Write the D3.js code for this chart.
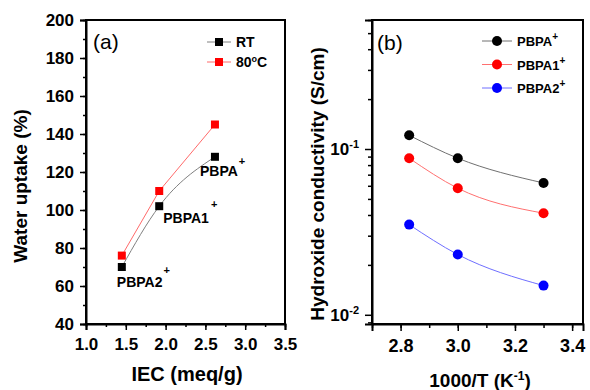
<!DOCTYPE html>
<html>
<head>
<meta charset="utf-8">
<script src="https://cdn.jsdelivr.net/npm/d3@7"></script>
<style>
  body { margin: 0; background: #fff; }
  text { font-family: "Liberation Sans", Arial, sans-serif; }
</style>
</head>
<body>
<div id="chart"></div>
<script>
// Panel (a) data: water uptake vs IEC
const iec = [1.45, 1.92, 2.62];
const uptakeRT = [70, 102, 128];
const uptake80 = [76, 110, 145];
const sampleNames = ["PBPA2", "PBPA1", "PBPA"];

// Panel (b) data: conductivity vs 1000/T
const invT = [2.83, 3.0, 3.3];
const condPBPA = [0.121, 0.088, 0.0624];
const condPBPA1 = [0.088, 0.058, 0.041];
const condPBPA2 = [0.035, 0.0231, 0.0150];

const xTicksA = [1.0, 1.5, 2.0, 2.5, 3.0, 3.5];
const yTicksA = [40, 60, 80, 100, 120, 140, 160, 180, 200];
const xTicksB = [2.8, 3.0, 3.2, 3.4];

const W = 590, H = 390;
const svg = d3.select("#chart").append("svg")
  .attr("width", W).attr("height", H);

const bold = "bold";

// ---------- Panel (a) ----------
const ax = d3.scaleLinear().domain([1.0, 3.5]).range([86, 285]);
const ay = d3.scaleLinear().domain([40, 200]).range([324, 20]);

const ga = svg.append("g");

// minor ticks
const minorXA = d3.range(1.0, 3.5001, 0.25);
const minorYA = d3.range(40, 200.1, 10);

ga.append("g").attr("transform", "translate(0,324)")
  .call(d3.axisBottom(ax).tickValues(minorXA).tickSize(3).tickFormat(""))
  .call(g => g.select(".domain").remove());
ga.append("g").attr("transform", "translate(86,0)")
  .call(d3.axisLeft(ay).tickValues(minorYA).tickSize(3).tickFormat(""))
  .call(g => g.select(".domain").remove());

const xAxisA = ga.append("g").attr("transform", "translate(0,324)")
  .call(d3.axisBottom(ax).tickValues(xTicksA).tickSize(6).tickPadding(8).tickFormat(d3.format(".1f")));
xAxisA.selectAll("text").attr("font-size", 17).attr("font-weight", bold).attr("fill", "#000");

const yAxisA = ga.append("g").attr("transform", "translate(86,0)")
  .call(d3.axisLeft(ay).tickValues(yTicksA).tickSize(6).tickPadding(6));
yAxisA.selectAll("text").attr("font-size", 17).attr("font-weight", bold).attr("fill", "#000");

ga.selectAll(".domain").attr("stroke-width", 2);
ga.selectAll(".tick line").attr("stroke-width", 1.5);

// frame
ga.append("rect").attr("x", 86).attr("y", 20).attr("width", 199).attr("height", 304)
  .attr("fill", "none").attr("stroke", "#000").attr("stroke-width", 2);

const lineA = (ys, curve) => d3.line()
  .x((d, i) => ax(iec[i])).y(d => ay(d)).curve(curve)(ys);

ga.append("path").attr("d", lineA(uptake80, d3.curveLinear))
  .attr("fill", "none").attr("stroke", "#ff6a6a").attr("stroke-width", 1);
ga.append("path").attr("d", lineA(uptakeRT, d3.curveMonotoneX))
  .attr("fill", "none").attr("stroke", "#808080").attr("stroke-width", 1);

const sq = 8;
ga.selectAll(".sq80").data(uptake80).enter().append("rect")
  .attr("x", (d, i) => ax(iec[i]) - sq / 2).attr("y", d => ay(d) - sq / 2)
  .attr("width", sq).attr("height", sq).attr("fill", "#ff0000");
ga.selectAll(".sqrt").data(uptakeRT).enter().append("rect")
  .attr("x", (d, i) => ax(iec[i]) - sq / 2).attr("y", d => ay(d) - sq / 2)
  .attr("width", sq).attr("height", sq).attr("fill", "#000");

// sample labels near RT points (order: PBPA2, PBPA1, PBPA)
const labelOffsets = [[-5, 20], [4, 17], [-15, 19]];
const supOffsets = [[1, -13], [2, -15], [1, -11]];
sampleNames.forEach((name, i) => {
  const t = ga.append("text")
    .attr("x", ax(iec[i]) + labelOffsets[i][0])
    .attr("y", ay(uptakeRT[i]) + labelOffsets[i][1])
    .attr("font-size", 14).attr("font-weight", bold);
  t.append("tspan").text(name);
  t.append("tspan").attr("dx", supOffsets[i][0]).attr("dy", supOffsets[i][1])
    .attr("font-size", 11).text("+");
});

// panel letter
ga.append("text").attr("x", 93).attr("y", 49).attr("font-size", 21).text("(a)");

// legend (a)
const legA = [["RT", "#808080", "#000"], ["80", "#ff6a6a", "#ff0000"]];
legA.forEach((d, i) => {
  const y = 42 + i * 20;
  ga.append("line").attr("x1", 207).attr("x2", 231).attr("y1", y).attr("y2", y)
    .attr("stroke", d[1]).attr("stroke-width", 1);
  ga.append("rect").attr("x", 219 - sq / 2).attr("y", y - sq / 2)
    .attr("width", sq).attr("height", sq).attr("fill", d[2]);
  const t = ga.append("text").attr("x", 236).attr("y", y + 5)
    .attr("font-size", 14).attr("font-weight", bold);
  t.append("tspan").text(d[0]);
  if (i === 1) {
    t.append("tspan").attr("dy", -5).attr("font-size", 9).text("o");
    t.append("tspan").attr("dy", 5).text("C");
  }
});

// axis titles (a)
ga.append("text").attr("x", 187).attr("y", 381).attr("text-anchor", "middle")
  .attr("font-size", 20).attr("font-weight", bold).text("IEC (meq/g)");
ga.append("text").attr("transform", "translate(27,186) rotate(-90)")
  .attr("text-anchor", "middle").attr("font-size", 19).attr("font-weight", bold)
  .text("Water uptake (%)");

// ---------- Panel (b) ----------
const bx = d3.scaleLinear().domain([2.7, 3.438]).range([372, 583]);
const by = d3.scaleLog().domain([0.0088, 0.6]).range([324, 20]);

const gb = svg.append("g");

const minorXB = d3.range(2.7, 3.4001, 0.1);
const minorYB = [0.009, 0.02, 0.03, 0.04, 0.05, 0.06, 0.07, 0.08, 0.09, 0.2, 0.3, 0.4, 0.5, 0.6];

gb.append("g").attr("transform", "translate(0,324)")
  .call(d3.axisBottom(bx).tickValues(minorXB).tickSize(4).tickFormat(""))
  .call(g => g.select(".domain").remove());
gb.append("g").attr("transform", "translate(372,0)")
  .call(d3.axisLeft(by).tickValues(minorYB).tickSize(4).tickFormat(""))
  .call(g => g.select(".domain").remove());

const xAxisB = gb.append("g").attr("transform", "translate(0,324)")
  .call(d3.axisBottom(bx).tickValues(xTicksB).tickSize(7).tickPadding(8).tickFormat(d3.format(".1f")));
xAxisB.selectAll("text").attr("font-size", 18).attr("font-weight", bold).attr("fill", "#000");

const yAxisB = gb.append("g").attr("transform", "translate(372,0)")
  .call(d3.axisLeft(by).tickValues([0.01, 0.1]).tickSize(7).tickFormat(""));
yAxisB.selectAll(".tick").each(function(d) {
  const t = d3.select(this).append("text")
    .attr("x", -13).attr("dy", "0.32em").attr("text-anchor", "end")
    .attr("font-size", 17).attr("font-weight", bold).attr("fill", "#000");
  t.append("tspan").text("10");
  t.append("tspan").attr("dy", -7).attr("font-size", 11)
    .text(d === 0.1 ? "-1" : "-2");
});

gb.selectAll(".domain").attr("stroke-width", 2);
gb.selectAll(".tick line").attr("stroke-width", 1.5);

gb.append("rect").attr("x", 372).attr("y", 20).attr("width", 211).attr("height", 304)
  .attr("fill", "none").attr("stroke", "#000").attr("stroke-width", 2);

const seriesB = [
  { name: "PBPA", values: condPBPA, line: "#707070", dot: "#000" },
  { name: "PBPA1", values: condPBPA1, line: "#ff7070", dot: "#ff0000" },
  { name: "PBPA2", values: condPBPA2, line: "#6f6fff", dot: "#0000ff" }
];

const lineB = d3.line().x((d, i) => bx(invT[i])).y(d => by(d)).curve(d3.curveMonotoneX);

seriesB.forEach((s, k) => {
  gb.append("path").attr("d", lineB(s.values))
    .attr("fill", "none").attr("stroke", s.line).attr("stroke-width", 1);
  gb.selectAll(".dot" + k).data(s.values).enter().append("circle")
    .attr("cx", (d, i) => bx(invT[i])).attr("cy", d => by(d)).attr("r", 5)
    .attr("fill", s.dot);

  const y = 41 + k * 23.5;
  gb.append("line").attr("x1", 482).attr("x2", 512).attr("y1", y).attr("y2", y)
    .attr("stroke", s.line).attr("stroke-width", 1);
  gb.append("circle").attr("cx", 497).attr("cy", y).attr("r", 5).attr("fill", s.dot);
  const t = gb.append("text").attr("x", 517).attr("y", y + 5)
    .attr("font-size", 13).attr("font-weight", bold);
  t.append("tspan").text(s.name);
  t.append("tspan").attr("dy", -6).attr("font-size", 10).text("+");
});

gb.append("text").attr("x", 377).attr("y", 50).attr("font-size", 21).text("(b)");

// axis titles (b)
const xt = gb.append("text").attr("x", 480).attr("y", 387).attr("text-anchor", "middle")
  .attr("font-size", 19).attr("font-weight", bold);
xt.append("tspan").text("1000/T (K");
xt.append("tspan").attr("dy", -7).attr("font-size", 12).text("-1");
xt.append("tspan").attr("dy", 7).text(")");

gb.append("text").attr("transform", "translate(324,184) rotate(-90)")
  .attr("text-anchor", "middle").attr("font-size", 19).attr("font-weight", bold)
  .text("Hydroxide conductivity (S/cm)");
</script>
</body>
</html>
